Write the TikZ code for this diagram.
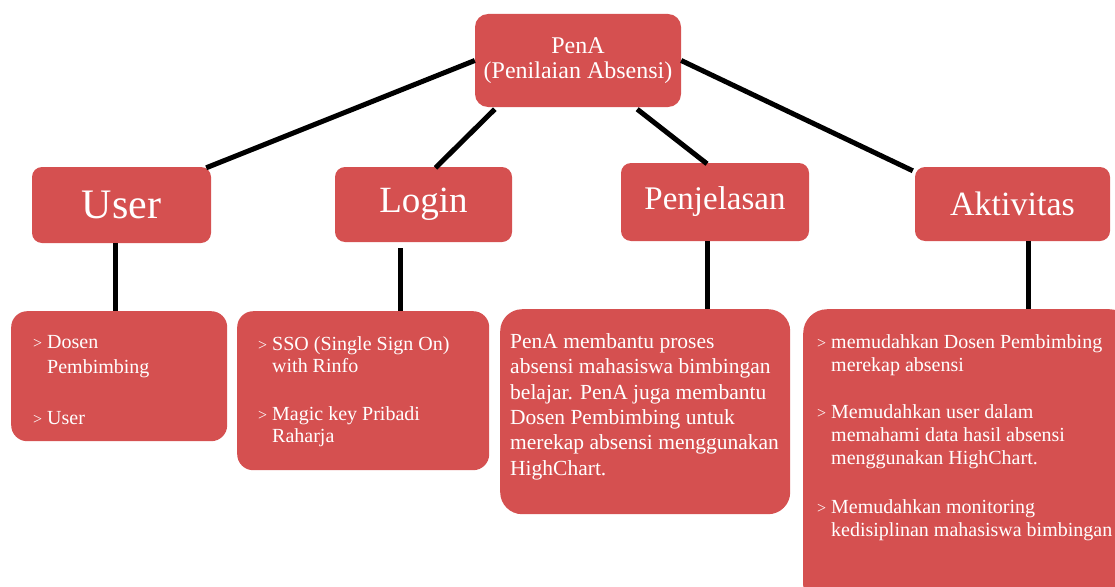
\documentclass[tikz,border=0pt]{standalone}
\usepackage{fontspec}
\setmainfont{Liberation Serif}
\definecolor{penared}{RGB}{213,80,80}
\newcommand{\fs}[2]{\fontsize{#1}{#2}\selectfont}
\newcommand{\itm}{\makebox[14pt][l]{\fs{16}{16}>}}
\newcommand{\ind}{\hspace*{14pt}}
\newcommand{\tops}{\rule{0pt}{16pt}}

\begin{document}
\begin{tikzpicture}[x=1pt, y=-1pt,
    box/.style={fill=penared, text=white, rounded corners=10pt, inner sep=0pt},
    detbox/.style={box, anchor=north west, rounded corners=16pt},
    dettext/.style={text=white, anchor=north west, align=left, inner sep=0pt},
    link/.style={line width=5pt}]
    \useasboundingbox (0,0) rectangle (1115,586);
    \clip (0,0) rectangle (1115,586);

    % root
    \node[box, rounded corners=13pt, minimum width=206pt, minimum height=93pt,
        align=center, font=\fs{24}{25}] (pena) at (578,60.5) {PenA\\(Penilaian Absensi)};

    % second level
    \node[box, minimum width=179pt, minimum height=76pt, font=\fs{42}{42}] (user) at (121.5,205) {User};
    \node[box, minimum width=177pt, minimum height=75pt, font=\fs{37}{37}] (login) at (423.5,204.5) {Login};
    \node[box, minimum width=188pt, minimum height=78pt, font=\fs{33}{33}] (penj) at (715,202) {Penjelasan};
    \node[box, minimum width=195pt, minimum height=74pt, font=\fs{34}{34}] (akt) at (1012.5,204) {Aktivitas};

    % detail boxes
    \node[detbox, minimum width=216pt, minimum height=130pt] (udet) at (11,311) {};
    \node[detbox, minimum width=252pt, minimum height=159pt] (ldet) at (237,311) {};
    \node[detbox, rounded corners=22pt, minimum width=290pt, minimum height=205pt] (pdet) at (500,309) {};
    \node[detbox, rounded corners=24pt, minimum width=330pt, minimum height=300pt] (adet) at (803,309) {};

    % texts: top of node = first baseline - 16
    \node[dettext, font=\fs{20}{25}] (utext) at (33,332)
        {\tops\itm Dosen\\ \ind Pembimbing\\[26pt] \itm User};
    \node[dettext, font=\fs{20}{22}] (ltext) at (258,334)
        {\tops\itm SSO (Single Sign On)\\ \ind with Rinfo\\[26pt] \itm Magic key Pribadi\\ \ind Raharja};
    \node[dettext, font=\fs{21.5}{25.4}] (ptext) at (510,332)
        {\tops PenA membantu proses\\absensi mahasiswa bimbingan\\belajar. PenA juga membantu\\Dosen Pembimbing untuk\\merekap absensi menggunakan\\HighChart.};
    \node[dettext, font=\fs{20}{23}] (atext) at (817,332)
        {\tops\itm memudahkan Dosen Pembimbing\\ \ind merekap absensi\\[24pt]
         \itm Memudahkan user dalam\\ \ind memahami data hasil absensi\\ \ind menggunakan HighChart.\\[26pt]
         \itm Memudahkan monitoring\\ \ind kedisiplinan mahasiswa bimbingan};

    % links from the root
    \draw[link] (pena.west) -- ([xshift=-5pt,yshift=-1pt]user.north east);
    \draw[link] ([xshift=20pt,yshift=-2pt]pena.south west) -- ([xshift=12pt,yshift=-1pt]login.north);
    \draw[link] ([xshift=-44pt,yshift=-2pt]pena.south east) -- ([xshift=-8pt,yshift=-1pt]penj.north);
    \draw[link] (pena.east) -- ([xshift=-2pt,yshift=-4pt]akt.north west);

    % links down to the details
    \path ([xshift=-6.5pt]user.south) coordinate (u1)
          ([xshift=-23.5pt,yshift=-6pt]login.south) coordinate (l1)
          ([xshift=-8pt]penj.south) coordinate (p1)
          ([xshift=15.5pt]akt.south) coordinate (a1);
    \draw[link] (u1) -- (u1 |- udet.north);
    \draw[link] (l1) -- (l1 |- ldet.north);
    \draw[link] (p1) -- (p1 |- pdet.north);
    \draw[link] (a1) -- (a1 |- adet.north);
\end{tikzpicture}
\end{document}
